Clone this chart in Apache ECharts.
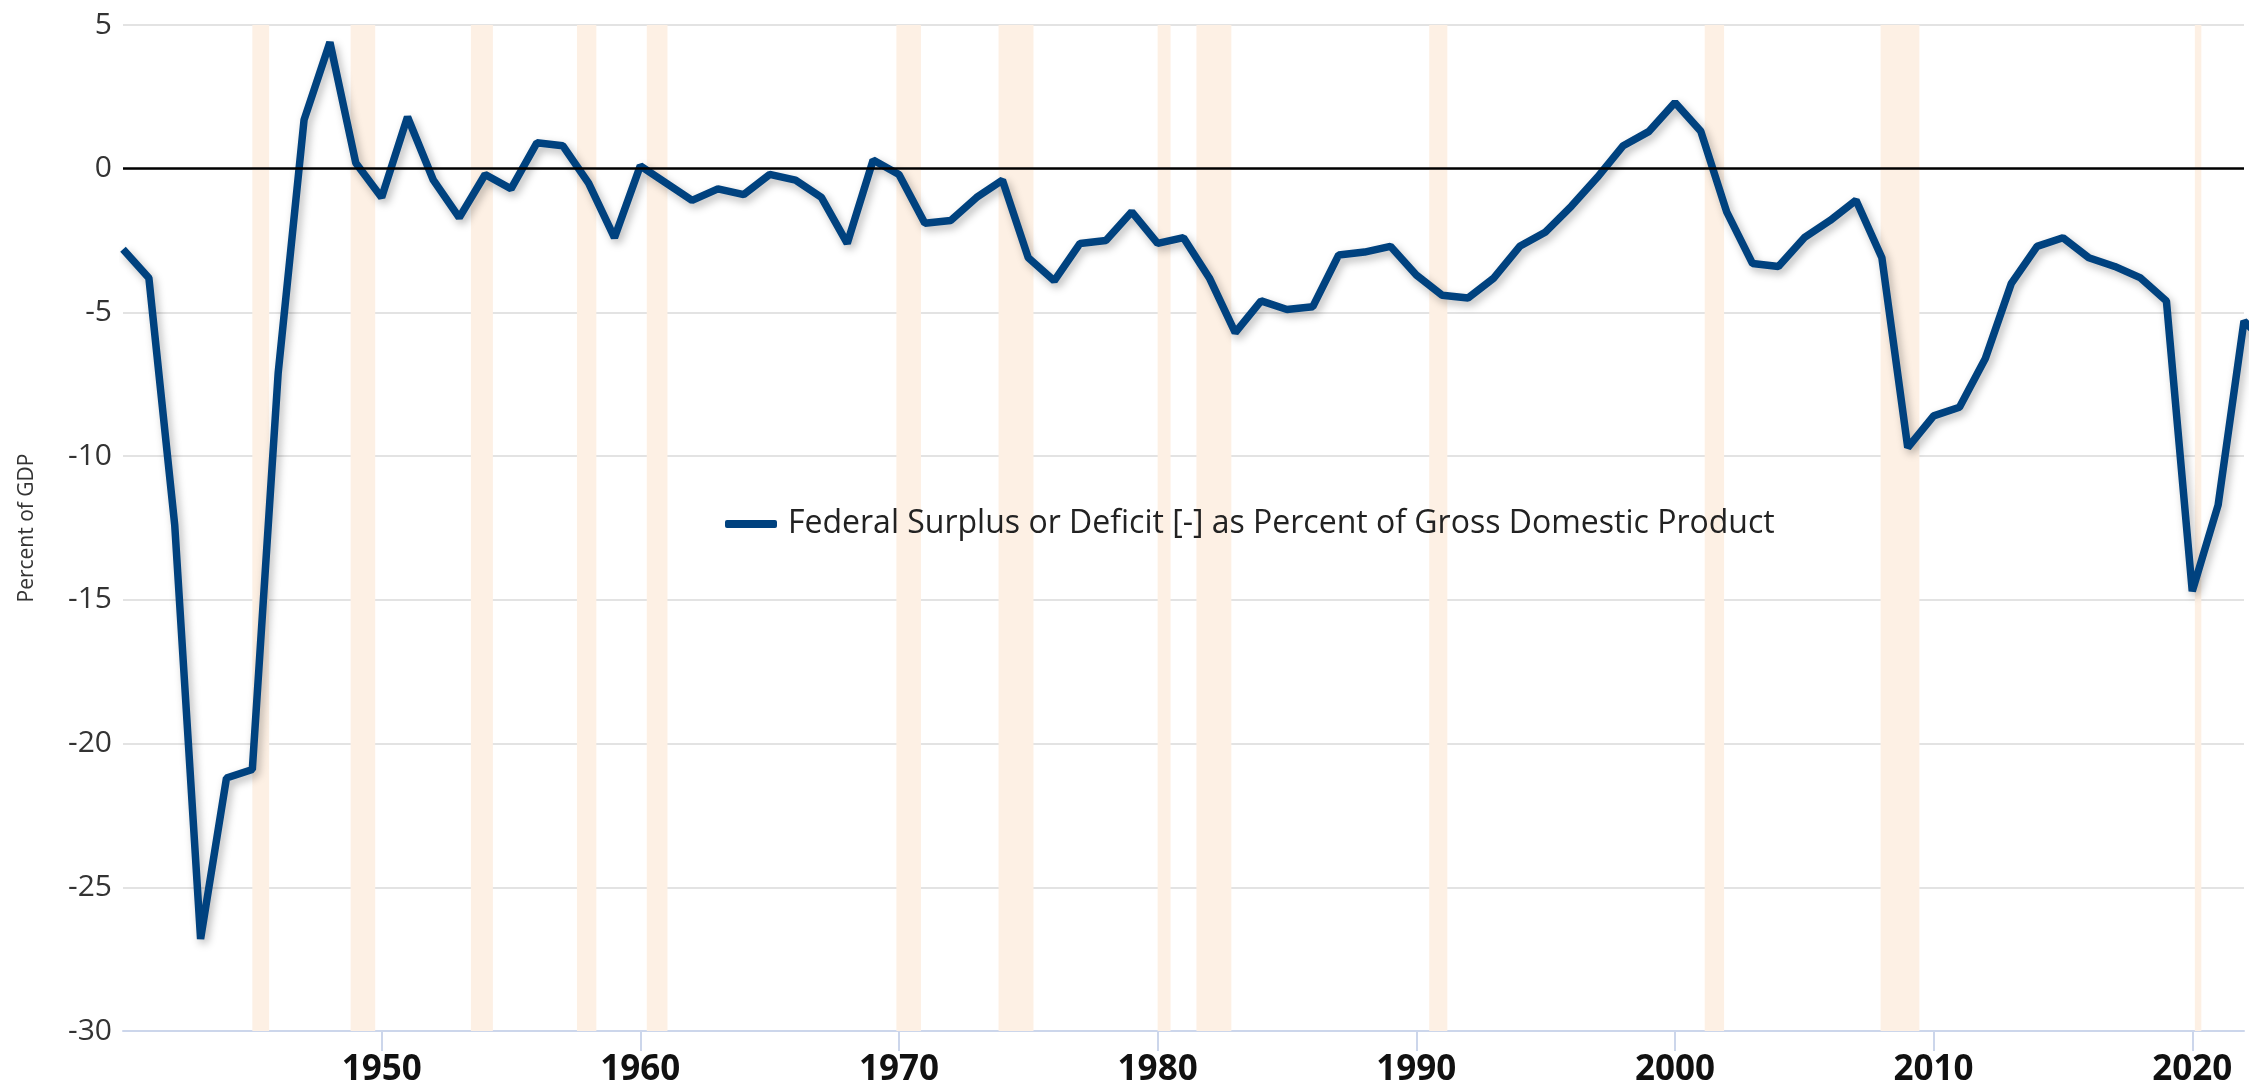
<!DOCTYPE html>
<html>
<head>
<meta charset="utf-8">
<title>Federal Surplus or Deficit</title>
<script src="https://cdn.jsdelivr.net/npm/echarts@6/dist/echarts.min.js"></script>
<style>
    html, body { margin: 0; padding: 0; background: #fff; }
    #chart { width: 2255px; height: 1090px; }
</style>
</head>
<body>
<div id="chart"></div>
<script>
    // fiscal years 1940 - 2023
    const years = [
        1940, 1941, 1942, 1943, 1944, 1945, 1946, 1947, 1948, 1949,
        1950, 1951, 1952, 1953, 1954, 1955, 1956, 1957, 1958, 1959,
        1960, 1961, 1962, 1963, 1964, 1965, 1966, 1967, 1968, 1969,
        1970, 1971, 1972, 1973, 1974, 1975, 1976, 1977, 1978, 1979,
        1980, 1981, 1982, 1983, 1984, 1985, 1986, 1987, 1988, 1989,
        1990, 1991, 1992, 1993, 1994, 1995, 1996, 1997, 1998, 1999,
        2000, 2001, 2002, 2003, 2004, 2005, 2006, 2007, 2008, 2009,
        2010, 2011, 2012, 2013, 2014, 2015, 2016, 2017, 2018, 2019,
        2020, 2021, 2022, 2023
    ];
    // percent of GDP
    const deficit = [
        -2.8, -3.8, -12.4, -26.8, -21.2, -20.9, -7.1, 1.7, 4.4, 0.2,
        -1.0, 1.8, -0.4, -1.7, -0.2, -0.7, 0.9, 0.8, -0.5, -2.4,
        0.1, -0.5, -1.1, -0.7, -0.9, -0.2, -0.4, -1.0, -2.6, 0.3,
        -0.2, -1.9, -1.8, -1.0, -0.4, -3.1, -3.9, -2.6, -2.5, -1.5,
        -2.6, -2.4, -3.8, -5.7, -4.6, -4.9, -4.8, -3.0, -2.9, -2.7,
        -3.7, -4.4, -4.5, -3.8, -2.7, -2.2, -1.3, -0.3, 0.8, 1.3,
        2.3, 1.3, -1.5, -3.3, -3.4, -2.4, -1.8, -1.1, -3.1, -9.7,
        -8.6, -8.3, -6.6, -4.0, -2.7, -2.4, -3.1, -3.4, -3.8, -4.6,
        -14.7, -11.7, -5.3, -6.2
    ];
    // recession periods (start, end) in fractional years
    const recessions = [
        [1945.0, 1945.65], [1948.8, 1949.75], [1953.45, 1954.3], [1957.55, 1958.3],
        [1960.25, 1961.05], [1969.9, 1970.85], [1973.85, 1975.2], [1980.0, 1980.5],
        [1981.5, 1982.85], [1990.5, 1991.2], [2001.15, 2001.9], [2007.95, 2009.45],
        [2020.1, 2020.35]
    ];
    const yearTicks = [1950, 1960, 1970, 1980, 1990, 2000, 2010, 2020];
    const seriesName = 'Federal Surplus or Deficit [-] as Percent of Gross Domestic Product';

    const points = [];
    for (let i = 0; i < years.length; i++) {
        points.push([years[i], deficit[i]]);
    }
    const areas = recessions.map(r => [{xAxis: r[0]}, {xAxis: r[1]}]);

    const option = {
        animation: false,
        textStyle: {fontFamily: 'Open Sans'},
        grid: {left: 123, right: 11, top: 25, bottom: 59},
        legend: {
            left: 720,
            top: 503,
            icon: 'roundRect',
            itemWidth: 52,
            itemHeight: 8,
            textStyle: {fontSize: 32, color: '#222', padding: [0, 0, 0, 6]},
            data: [seriesName]
        },
        xAxis: {
            type: 'value',
            min: 1940,
            max: 2022,
            interval: 10,
            axisLine: {onZero: false, lineStyle: {color: '#ccd6eb', width: 2}},
            axisTick: {
                customValues: yearTicks,
                length: 20,
                lineStyle: {color: '#ccd6eb', width: 2}
            },
            axisLabel: {
                customValues: yearTicks,
                formatter: v => String(v),
                margin: 22,
                fontSize: 35,
                fontWeight: 'bold',
                color: '#111'
            },
            splitLine: {show: false}
        },
        yAxis: {
            type: 'value',
            min: -30,
            max: 5,
            interval: 5,
            name: 'Percent of GDP',
            nameLocation: 'middle',
            nameRotate: 90,
            nameGap: 85,
            nameTextStyle: {fontSize: 21, color: '#333'},
            axisLine: {show: false},
            axisTick: {show: false},
            axisLabel: {fontSize: 30, color: '#333', margin: 11},
            splitLine: {lineStyle: {color: '#e3e3e3', width: 2}}
        },
        series: [{
            name: seriesName,
            type: 'line',
            data: points,
            clip: false,
            showSymbol: false,
            symbol: 'none',
            color: '#00427f',
            lineStyle: {
                width: 7.5,
                color: '#00427f',
                shadowColor: 'rgba(0, 0, 0, 0.28)',
                shadowBlur: 8,
                shadowOffsetX: 3,
                shadowOffsetY: 4
            },
            markArea: {
                silent: true,
                itemStyle: {color: '#fdf0e4'},
                data: areas
            },
            markLine: {
                silent: true,
                symbol: 'none',
                label: {show: false},
                lineStyle: {color: '#000', width: 2.5, type: 'solid'},
                data: [{yAxis: 0}]
            }
        }]
    };

    const chart = echarts.init(document.getElementById('chart'));
    chart.setOption(option);
</script>
</body>
</html>
